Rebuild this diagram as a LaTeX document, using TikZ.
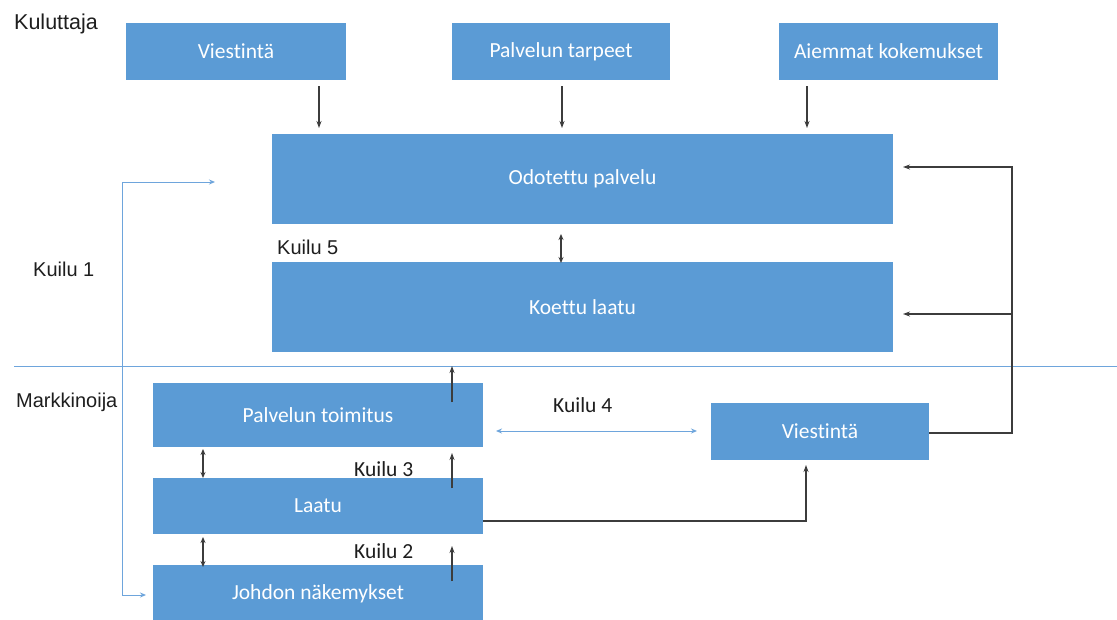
\documentclass[tikz,border=0pt]{standalone}
\usepackage{fontspec}
\setmainfont{Liberation Sans}
\newfontfamily\boxfont[Ligatures=NoCommon]{Carlito}
\usetikzlibrary{arrows.meta}
\definecolor{boxblue}{RGB}{91,155,213}
\definecolor{lineblue}{RGB}{110,165,220}
\definecolor{darkline}{RGB}{60,60,60}
\definecolor{labeltext}{RGB}{30,30,30}
\tikzset{
  bx/.style={fill=boxblue, draw=none, inner sep=0pt, text=white, font=\boxfont\fontsize{21.5}{25}\selectfont},
  conn/.style={draw=darkline, line width=1.05pt, -{Stealth[length=7pt,width=5pt]}},
  dconn/.style={draw=darkline, line width=1.05pt, {Stealth[length=6pt,width=5pt]}-{Stealth[length=6pt,width=5pt]}},
  bconn/.style={draw=lineblue, line width=1pt, {Stealth[length=6pt,width=5pt]}-{Stealth[length=6pt,width=5pt]}},
  arlab/.style={anchor=base west, inner sep=0pt, text=labeltext, font=\fontsize{20}{24}\selectfont},
  cblab/.style={anchor=base west, inner sep=0pt, text=labeltext, font=\boxfont\fontsize{21.5}{25}\selectfont},
}
\begin{document}
\begin{tikzpicture}[x=1pt,y=-1pt]
\clip (0,0) rectangle (1117,619);
\fill[white] (0,0) rectangle (1117,619);

% boxes
\node[bx, minimum width=220, minimum height=57] (v1) at (236,51.5) {Viestintä};
\node[bx, minimum width=218, minimum height=57] (pt) at (561,51.5) {Palvelun tarpeet};
\node[bx, minimum width=219, minimum height=57] (ak) at (888.5,51.5) {Aiemmat kokemukset};
\node[bx, minimum width=621, minimum height=90] (op) at (582.5,179) {Odotettu palvelu};
\node[bx, minimum width=621, minimum height=90] (kl) at (582.5,307) {Koettu laatu};
\node[bx, minimum width=330, minimum height=64] (pto) at (318,415) {Palvelun toimitus};
\node[bx, minimum width=330, minimum height=56] (la) at (318,506) {Laatu};
\node[bx, minimum width=330, minimum height=58] (jn) at (318,594) {Johdon näkemykset};
\node[bx, minimum width=218, minimum height=57] (vr) at (820,431.5) {Viestintä};

% labels
\node[arlab, font=\fontsize{21.5}{25}\selectfont] (kul) at (14,29.5) {Kuluttaja};
\node[arlab] (k1) at (33,276.5) {Kuilu 1};
\node[arlab] (k5) at (277,254) {Kuilu 5};
\node[arlab] (mar) at (16,407) {Markkinoija};
\node[cblab] (k4) at (553,412) {Kuilu 4};
\node[cblab] (k3) at (354,476) {Kuilu 3};
\node[cblab] (k2) at (354,558) {Kuilu 2};

% divider
\coordinate (dl) at (14,366);
\coordinate (dr) at (1117,366);
\draw[lineblue, line width=1pt] (dl) -- (dr);

% coordinates for free connectors
\coordinate (a1s) at (319,86);  \coordinate (a1e) at (319,128);
\coordinate (a2s) at (562,86);  \coordinate (a2e) at (562,128);
\coordinate (a3s) at (807,86);  \coordinate (a3e) at (807,128);
\coordinate (k5t) at (561,234); \coordinate (k5b) at (561,263);
\coordinate (rtop) at (1012,167); \coordinate (rbr) at (1012,314);
\coordinate (rbot) at (1012,433);
\coordinate (optip) at (903,167); \coordinate (kltip) at (903,314);
\coordinate (btip) at (215,182); \coordinate (bc1) at (122,182);
\coordinate (bc2) at (122,595); \coordinate (btip2) at (146,595);
\coordinate (u1s) at (452,402); \coordinate (u1e) at (452,366);
\coordinate (u2s) at (452,488); \coordinate (u2e) at (452,453);
\coordinate (u3s) at (452,581); \coordinate (u3e) at (452,546);
\coordinate (d1t) at (203,449); \coordinate (d1b) at (203,478);
\coordinate (d2t) at (203,537); \coordinate (d2b) at (203,567);
\coordinate (k4l) at (496,431); \coordinate (k4r) at (697,431);
\coordinate (lr) at (806,521); \coordinate (ltip) at (806,465);

% connectors
\draw[conn] (a1s) -- (a1e);
\draw[conn] (a2s) -- (a2e);
\draw[conn] (a3s) -- (a3e);
\draw[dconn] (k5t) -- (k5b);
\draw[conn] (vr.east |- rbot) -- (rbot) -- (rtop) -- (optip);
\draw[conn] (rbr) -- (kltip);
\draw[bconn] (btip) -- (bc1) -- (bc2) -- (btip2);
\draw[conn] (u1s) -- (u1e);
\draw[conn] (u2s) -- (u2e);
\draw[conn] (u3s) -- (u3e);
\draw[dconn] (d1t) -- (d1b);
\draw[dconn] (d2t) -- (d2b);
\draw[bconn] (k4l) -- (k4r);
\draw[conn] (la.east |- lr) -- (lr) -- (ltip);
\end{tikzpicture}
\end{document}
